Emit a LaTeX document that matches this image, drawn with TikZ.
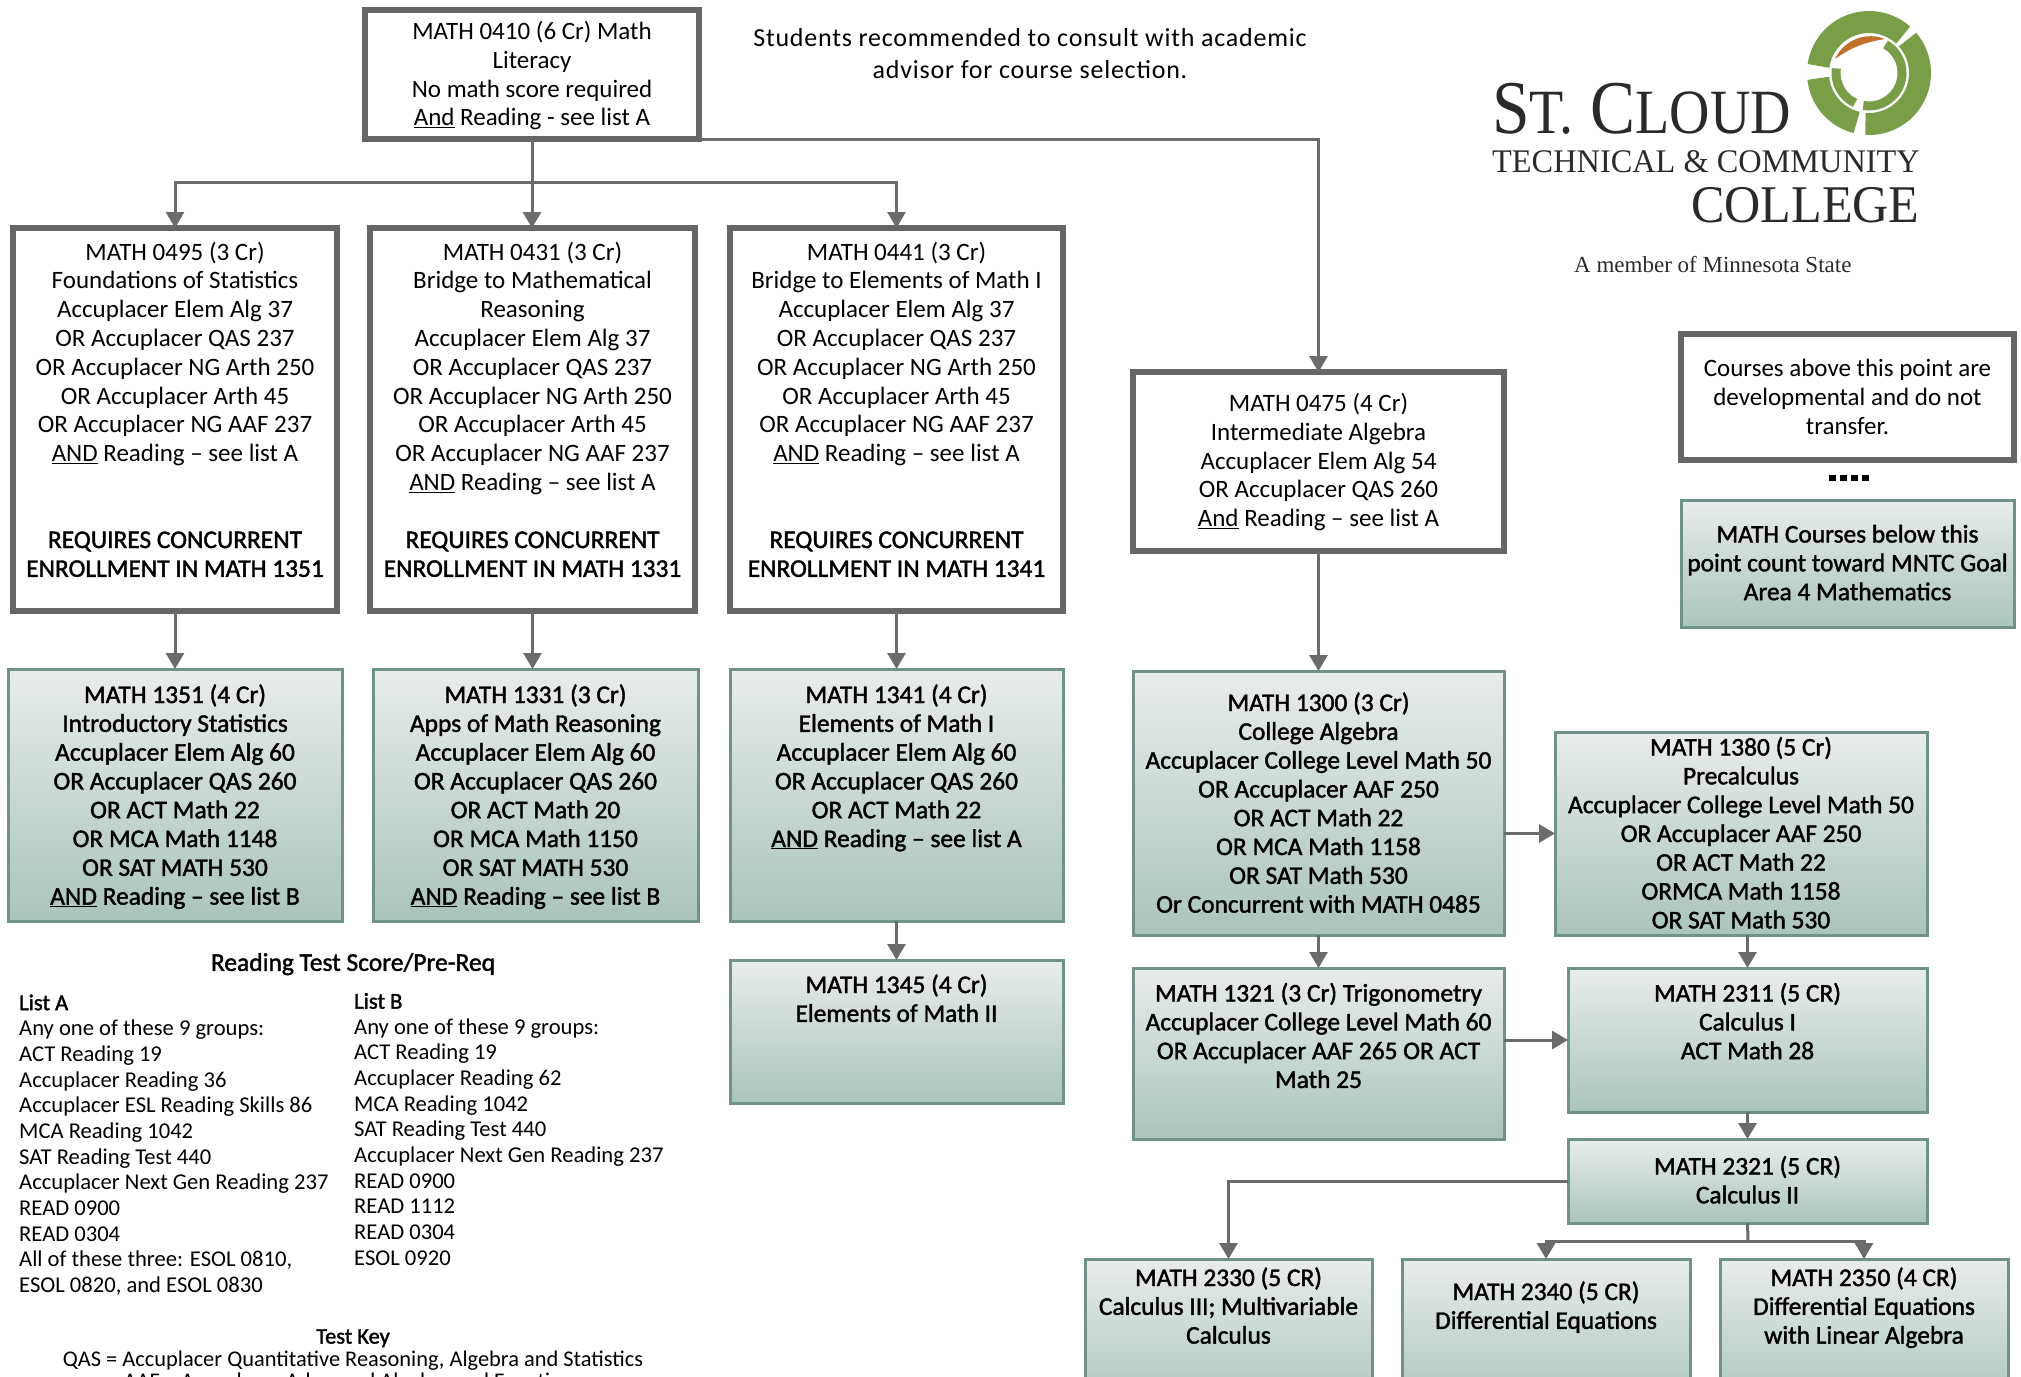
\documentclass[tikz,border=0pt]{standalone}
\usepackage{fontspec}
\usepackage{graphicx}
\usetikzlibrary{arrows.meta}
\setmainfont{Carlito}
\newfontfamily\fakebf[FakeBold=1.6]{Carlito}
\newfontfamily\logofont{Liberation Serif}
\definecolor{linegray}{HTML}{6B6B6B}
\definecolor{boxgray}{HTML}{666666}
\definecolor{tealedge}{HTML}{6F9289}
\definecolor{tealtop}{HTML}{E8EDEC}
\definecolor{tealbot}{HTML}{ABC3BD}
\definecolor{logogreen}{HTML}{7A9E47}
\definecolor{logoorange}{HTML}{C0702A}
\definecolor{logoink}{HTML}{2A2A2A}
\tikzset{
  graybox/.style={draw=boxgray,line width=6pt,fill=white,inner sep=0pt,outer sep=0pt},
  thinbox/.style={draw=tealedge,line width=3pt,top color=tealtop,bottom color=tealbot,inner sep=0pt,outer sep=0pt},
  link/.style={draw=linegray,line width=3pt,-{Triangle[length=16pt,width=18pt]}},
  plainlink/.style={draw=linegray,line width=3pt},
  listtext/.style={inner sep=0pt,align=left,anchor=north west,font=\fontsize{22.6}{25.65}\selectfont},
  headtext/.style={inner sep=0pt,align=center,font=\fakebf\fontsize{25.5}{28}\selectfont},
  ringseg/.style={draw=logogreen,line cap=butt},
  logotext/.style={inner sep=0pt,anchor=base west,text=logoink},
}
% name, x1, y1, x2, y2, style, first baseline, text
\newcommand{\flowbox}[8]{%
  \pgfmathsetmacro\boxw{#4-#2}%
  \pgfmathsetmacro\boxh{#5-#3}%
  \pgfmathsetmacro\boxoff{#7-#3-20.16}%
  \node[#6] (#1) at ({(#2+#4)/2},{(#3+#5)/2}) {\parbox[c][\boxh pt][t]{\boxw pt}{%
    \centering\fontsize{25}{28.8}\selectfont\vspace*{\boxoff pt}\strut #8\par}};%
}
\newcommand{\bft}{\fakebf\fontsize{25.4}{28.8}\selectfont}
\begin{document}
\begin{tikzpicture}[x=1pt,y=-1pt]
\useasboundingbox (0,0) rectangle (2021,1376);
\clip (0,0) rectangle (2021,1376);

\flowbox{top}{365}{10}{699}{139}{graybox}{39.5}{MATH 0410 (6 Cr) Math\\Literacy\\No math score required\\\underline{And} Reading - see list A}
\flowbox{a}{13}{228}{337}{611}{graybox}{260}{MATH 0495 (3 Cr)\\Foundations of Statistics\\Accuplacer Elem Alg 37\\OR Accuplacer QAS 237\\OR Accuplacer NG Arth 250\\OR Accuplacer Arth 45\\OR Accuplacer NG AAF 237\\\underline{AND} Reading – see list A\\[57.6pt]{\bft REQUIRES CONCURRENT\\ENROLLMENT IN MATH 1351}}
\flowbox{b}{370}{228}{695}{611}{graybox}{260}{MATH 0431 (3 Cr)\\Bridge to Mathematical\\Reasoning\\Accuplacer Elem Alg 37\\OR Accuplacer QAS 237\\OR Accuplacer NG Arth 250\\OR Accuplacer Arth 45\\OR Accuplacer NG AAF 237\\\underline{AND} Reading – see list A\\[28.8pt]{\bft REQUIRES CONCURRENT\\ENROLLMENT IN MATH 1331}}
\flowbox{c}{730}{228}{1063}{611}{graybox}{260}{MATH 0441 (3 Cr)\\Bridge to Elements of Math I\\Accuplacer Elem Alg 37\\OR Accuplacer QAS 237\\OR Accuplacer NG Arth 250\\OR Accuplacer Arth 45\\OR Accuplacer NG AAF 237\\\underline{AND} Reading – see list A\\[57.6pt]{\bft REQUIRES CONCURRENT\\ENROLLMENT IN MATH 1341}}
\flowbox{d}{1133}{372}{1504}{551}{graybox}{411.5}{MATH 0475 (4 Cr)\\Intermediate Algebra\\Accuplacer Elem Alg 54\\OR Accuplacer QAS 260\\\underline{And} Reading – see list A}
\flowbox{note}{1681}{334}{2014}{460}{graybox}{376.5}{Courses above this point are\\developmental and do not\\transfer.}
\flowbox{goal}{1681}{500}{2014}{627}{thinbox}{542.5}{\bft MATH Courses below this\\point count toward MNTC Goal\\Area 4 Mathematics}

\flowbox{e}{8}{669}{342}{921}{thinbox}{703}{\bft MATH 1351 (4 Cr)\\Introductory Statistics\\Accuplacer Elem Alg 60\\OR Accuplacer QAS 260\\OR ACT Math 22\\OR MCA Math 1148\\OR SAT MATH 530\\\underline{AND} Reading – see list B}
\flowbox{f}{373}{669}{698}{921}{thinbox}{703}{\bft MATH 1331 (3 Cr)\\Apps of Math Reasoning\\Accuplacer Elem Alg 60\\OR Accuplacer QAS 260\\OR ACT Math 20\\OR MCA Math 1150\\OR SAT MATH 530\\\underline{AND} Reading – see list B}
\flowbox{g}{730}{669}{1063}{921}{thinbox}{703}{\bft MATH 1341 (4 Cr)\\Elements of Math I\\Accuplacer Elem Alg 60\\OR Accuplacer QAS 260\\OR ACT Math 22\\\underline{AND} Reading – see list A}
\flowbox{h}{730}{960}{1063}{1103}{thinbox}{993}{\bft MATH 1345 (4 Cr)\\Elements of Math II}
\flowbox{i}{1133}{671}{1504}{935}{thinbox}{711}{\bft MATH 1300 (3 Cr)\\College Algebra\\Accuplacer College Level Math 50\\OR Accuplacer AAF 250\\OR ACT Math 22\\OR MCA Math 1158\\OR SAT Math 530\\Or Concurrent with MATH 0485}
\flowbox{j}{1555}{732}{1927}{935}{thinbox}{755.5}{\bft MATH 1380 (5 Cr)\\Precalculus\\Accuplacer College Level Math 50\\OR Accuplacer AAF 250\\OR ACT Math 22\\ORMCA Math 1158\\OR SAT Math 530}
\flowbox{k}{1133}{968}{1504}{1139}{thinbox}{1001.5}{\bft MATH 1321 (3 Cr) Trigonometry\\Accuplacer College Level Math 60\\OR Accuplacer AAF 265 OR ACT\\Math 25}
\flowbox{l}{1568}{968}{1927}{1112}{thinbox}{1001.5}{\bft MATH 2311 (5 CR)\\Calculus I\\ACT Math 28}
\flowbox{m}{1568}{1139}{1927}{1223}{thinbox}{1174.5}{\bft MATH 2321 (5 CR)\\Calculus II}
\flowbox{n}{1085}{1259}{1372}{1410}{thinbox}{1286}{\bft MATH 2330 (5 CR)\\Calculus III; Multivariable\\Calculus}
\flowbox{o}{1402}{1259}{1690}{1410}{thinbox}{1300}{\bft MATH 2340 (5 CR)\\Differential Equations}
\flowbox{p}{1720}{1259}{2008}{1410}{thinbox}{1286}{\bft MATH 2350 (4 CR)\\Differential Equations\\with Linear Algebra}

% connectors
\coordinate (bus) at (532,182);
\draw[plainlink] (top.south) -- (bus);
\draw[link] (bus) -| (a.north);
\draw[link] (bus) -- (top.south |- b.north);
\draw[link] (bus) -| (c.north);
\draw[link] (top.south east) -| (d.north);
\draw[link] (a.south) -- (e.north -| a.south);
\draw[link] (b.south) -- (f.north -| b.south);
\draw[link] (c.south) -- (g.north);
\draw[link] (g.south) -- (h.north);
\draw[link] (d.south) -- (i.north);
\draw[link] (i.east |- j.west) -- (j.west);
\draw[link] (i.south) -- (k.north);
\draw[link] (k.east |- l.west) -- (l.west);
\draw[link] (l.north |- j.south) -- (l.north);
\draw[link] (l.south) -- (m.north);
\coordinate (mleft) at (1568,1181);
\draw[link] (mleft) -| (n.north);
\coordinate (fork) at (1748,1241);
\draw[plainlink] (m.south) -- (fork);
\draw[link] (fork) -| (o.north);
\draw[link] (fork) -| (p.north);

% free text
\node[inner sep=0pt,align=center,font=\addfontfeature{LetterSpace=3}\fontsize{26}{32}\selectfont,anchor=north] (adv) at (1030,24) {\strut Students recommended to consult with academic\\advisor for course selection.};

% dots between note and goal
\draw[draw=black,line width=6pt,dash pattern=on 7pt off 4pt] (1829,478) -- (1870,478);

% lists
\node[headtext,anchor=north] (rt) at (353,951) {\strut Reading Test Score/Pre-Req};
\node[listtext] (la) at (19,992) {\strut{\fakebf List A}\\Any one of these 9 groups:\\ACT Reading 19\\Accuplacer Reading 36\\Accuplacer ESL Reading Skills 86\\MCA Reading 1042\\SAT Reading Test 440\\Accuplacer Next Gen Reading 237\\READ 0900\\READ 0304\\All of these three: ESOL 0810,\\ESOL 0820, and ESOL 0830};
\node[listtext] (lb) at (354,990.5) {\strut{\fakebf List B}\\Any one of these 9 groups:\\ACT Reading 19\\Accuplacer Reading 62\\MCA Reading 1042\\SAT Reading Test 440\\Accuplacer Next Gen Reading 237\\READ 0900\\READ 1112\\READ 0304\\ESOL 0920};
\node[inner sep=0pt,align=center,anchor=north,font=\fontsize{22.4}{22}\selectfont] (tk) at (353,1328) {\strut{\fakebf Test Key}\\QAS = Accuplacer Quantitative Reasoning, Algebra and Statistics\\AAF = Accuplacer Advanced Algebra and Functions};

% logo
\begin{scope}[shift={(1869,73)},y=1pt]
\draw[ringseg,line width=22pt] (48:51) arc[start angle=48,end angle=172,radius=51];
\draw[ringseg,line width=22pt] (186:51) arc[start angle=186,end angle=256,radius=51];
\draw[ringseg,line width=22pt] (-94:51) arc[start angle=-94,end angle=41,radius=51];
\draw[ringseg,line width=9pt] (60:33) arc[start angle=60,end angle=-100,radius=33];
\draw[ringseg,line width=9pt] (172:33) arc[start angle=172,end angle=245,radius=33];
\end{scope}
\fill[logoorange] (1835,59) .. controls (1845,38) and (1868,32) .. (1885,39) .. controls (1865,42) and (1850,48) .. cycle;
\node[logotext] (lg1) at (1492,133) {\scalebox{0.888}[1]{\logofont\fontsize{76}{76}\selectfont S{\fontsize{63}{63}\selectfont T.} C{\fontsize{63}{63}\selectfont LOUD}}};
\node[logotext] (lg2) at (1492,172) {\scalebox{0.98}[1]{\logofont\fontsize{33}{33}\selectfont TECHNICAL {\&} COMMUNITY}};
\node[logotext] (lg3) at (1691,222) {\scalebox{0.946}[1]{\logofont\fontsize{53}{53}\selectfont COLLEGE}};
\node[logotext] (lg4) at (1574,272) {\logofont\fontsize{23}{23}\selectfont A member of Minnesota State};
\end{tikzpicture}
\end{document}
